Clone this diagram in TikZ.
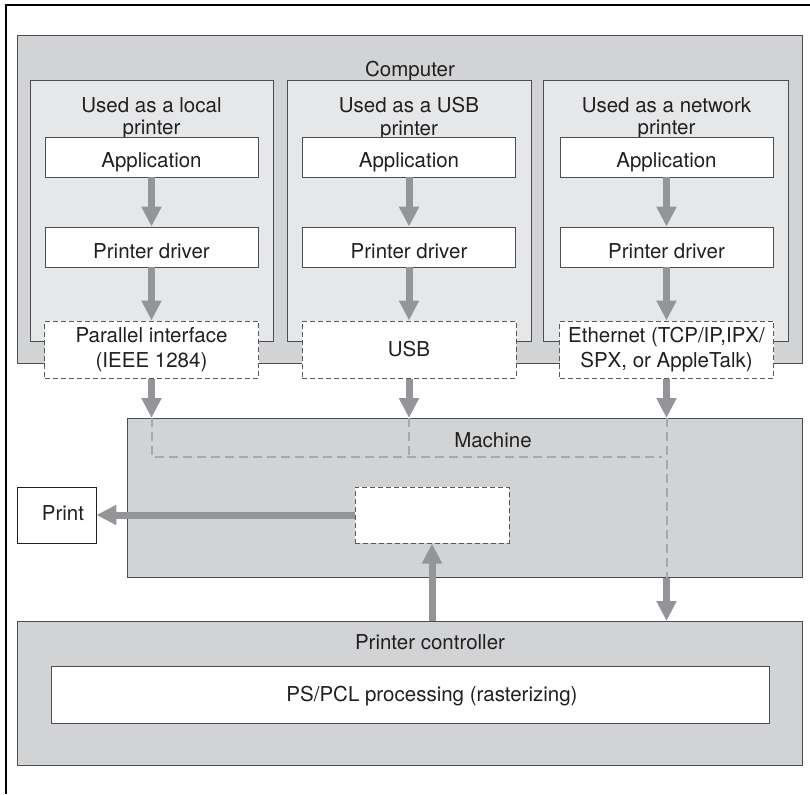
\documentclass[tikz,border=0pt]{standalone}
\usepackage{fontspec}
\setmainfont{TeX Gyre Heros}
\usetikzlibrary{arrows.meta}
\definecolor{areagray}{HTML}{D1D3D4}
\definecolor{colgray}{HTML}{E6E7E8}
\definecolor{linegray}{HTML}{4D4D4F}
\definecolor{arrowgray}{HTML}{939598}
\definecolor{dashline}{HTML}{58595B}
\definecolor{busgray}{HTML}{A7A9AC}
\definecolor{ink}{HTML}{231F20}
\tikzset{
  grayarea/.style={draw=linegray, fill=areagray, line width=0.8pt, inner sep=0pt, anchor=north west},
  colarea/.style={draw=linegray, fill=colgray, line width=0.8pt, inner sep=0pt, anchor=north west},
  wbox/.style={draw=linegray, fill=white, line width=0.8pt, minimum width=213pt, minimum height=40pt, inner sep=0pt, text height=22pt, text depth=0pt},
  dbox/.style={draw=dashline, fill=white, dash pattern=on 5pt off 3pt, line width=1pt, minimum width=214pt, minimum height=57pt, inner sep=0pt, align=center, font=\fontsize{20.5}{25}\selectfont},
  coltitle/.style={anchor=north, inner sep=0pt, align=center, font=\fontsize{20.5}{22.5}\selectfont},
  arealabel/.style={anchor=base, inner sep=0pt},
  flow/.style={draw=arrowgray, line width=7pt, -{Triangle[width=19pt,length=20pt]}},
  bus/.style={draw=busgray, line width=2pt, dash pattern=on 9pt off 5pt},
}
\begin{document}
\begin{tikzpicture}[x=1pt, y=-1pt, font=\fontsize{20.5}{25}\selectfont, text=ink]
\useasboundingbox (0,0) rectangle (810,794);
% outer frame
\draw[line width=2.5pt] (6,794) -- (6,5) -- (810,5);

% Computer
\node[grayarea, minimum width=785pt, minimum height=328pt] (computer) at (17,35) {};
\node[arealabel] (computerlbl) at (410,77) {Computer};

\node[colarea, minimum width=243pt, minimum height=261pt] (col1) at (30,80) {};
\node[colarea, minimum width=244pt, minimum height=261pt] (col2) at (287,80) {};
\node[colarea, minimum width=245pt, minimum height=261pt] (col3) at (543,80) {};

\node[coltitle] (t1) at (151.5,97) {Used as a local\\printer};
\node[coltitle] (t2) at (409,97) {Used as a USB\\printer};
\node[coltitle] (t3) at (666.5,97) {Used as a network\\printer};

\node[wbox] (app1) at (151.5,157) {Application};
\node[wbox] (app2) at (409,157) {Application};
\node[wbox] (app3) at (666.5,157) {Application};

\node[wbox] (drv1) at (151.5,247) {Printer driver};
\node[wbox] (drv2) at (409,247) {Printer driver};
\node[wbox] (drv3) at (666.5,247) {Printer driver};

\node[dbox] (if1) at (151.5,349.5) {Parallel interface\\(IEEE 1284)};
\node[dbox] (if2) at (409,349.5) {USB};
\node[dbox] (if3) at (666.5,349.5) {Ethernet (TCP/IP,IPX/\\SPX, or AppleTalk)};

% Machine
\node[grayarea, minimum width=675pt, minimum height=159pt] (machine) at (127,418) {};
\node[arealabel] (machinelbl) at (493,447) {Machine};
\node[draw=dashline, fill=white, dash pattern=on 5pt off 3pt, line width=1pt, minimum width=154pt, minimum height=56pt, inner sep=0pt] (proc) at (432,515) {};

% Print
\node[draw=ink, fill=white, line width=0.8pt, minimum width=79pt, minimum height=56pt, inner sep=0pt, text height=10pt, text depth=0pt, xshift=0pt] (print) at (56.5,515) {\hspace*{13pt}Print};

% Printer controller
\node[grayarea, minimum width=785pt, minimum height=144pt] (ctrl) at (17,621) {};
\node[arealabel] (ctrllbl) at (430,649) {Printer controller};
\node[draw=linegray, fill=white, line width=0.8pt, minimum width=718pt, minimum height=57pt, inner sep=0pt, text height=13pt, text depth=0pt] (ps) at (410,694.5) {\hspace*{44pt}PS/PCL processing (rasterizing)};

% bus lines inside machine
\coordinate (busL) at (if1.south |- 0,457);
\coordinate (busR) at (662,457);
\draw[bus] (if1.south |- machine.north) -- (busL) -- (busR);
\draw[bus] (if2.south |- machine.north) -- (if2.south |- busL);
\draw[bus] (if3.south |- machine.north) -- (if3.south |- machine.south);

% flow arrows
\foreach \i in {1,2,3}{
  \draw[flow] (app\i.south) -- (drv\i.north);
  \draw[flow] (drv\i.south) -- (if\i.north);
  \draw[flow] (if\i.south) -- (if\i.south |- machine.north);
}
\draw[flow] (if3.south |- machine.south) -- (if3.south |- ctrl.north);
\draw[flow] (proc.south |- ctrl.north) -- (proc.south);
\draw[flow] (proc.west) -- (print.east);
\end{tikzpicture}
\end{document}
